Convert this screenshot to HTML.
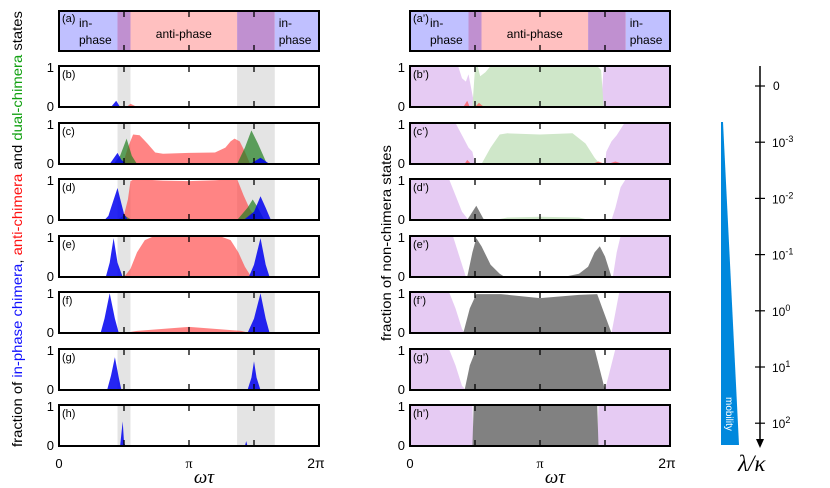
<!DOCTYPE html>
<html><head><meta charset="utf-8"><style>
html,body{margin:0;padding:0;background:#fff;width:830px;height:488px;overflow:hidden}
svg{display:block;font-family:"Liberation Sans",sans-serif}
</style></head><body>
<svg id="fig" width="830" height="488" viewBox="0 0 830 488" xmlns="http://www.w3.org/2000/svg"></svg>
<script>
// x values in units of pi (omega*tau/pi), y values fractions 0..1
const panelNames = ["b","c","d","e","f","g","h"];
// left column
const bBlueX=[0.40,0.44,0.47], bBlueY=[0,0.15,0];
const bRedX=[0.52,0.55,0.60], bRedY=[0,0.08,0];
const cRedX=[0.49,0.53,0.57,0.62,0.68,0.74,0.80,1.0,1.2,1.28,1.32,1.35,1.39,1.43,1.47];
const cRedY=[0,0.4,0.72,0.7,0.5,0.28,0.25,0.27,0.28,0.4,0.55,0.62,0.55,0.3,0];
const cGreenX=[0.42,0.47,0.52,0.56,0.60], cGreenY=[0,0.2,0.62,0.2,0];
const cGreen2X=[1.37,1.43,1.48,1.53,1.60], cGreen2Y=[0,0.4,0.82,0.5,0];
const cBlueX=[0.39,0.45,0.48,0.52], cBlueY=[0,0.27,0.1,0];
const cBlue2X=[1.47,1.55,1.62], cBlue2Y=[0,0.15,0];
const dRedX=[0.49,0.53,0.55,0.58,0.8,1.0,1.2,1.37,1.42,1.47,1.53], dRedY=[0,0.5,0.95,1,0.96,0.95,0.97,1,0.6,0.25,0];
const dGreenX=[0.45,0.50,0.56], dGreenY=[0,0.12,0];
const dGreen2X=[1.37,1.45,1.49,1.53,1.58], dGreen2Y=[0,0.3,0.5,0.3,0];
const dBlueX=[0.35,0.38,0.40,0.45,0.48,0.50,0.53], dBlueY=[0,0.1,0.3,0.78,0.4,0.15,0];
const dBlue2X=[1.42,1.50,1.55,1.59,1.63], dBlue2Y=[0,0.2,0.58,0.3,0];
const eRedX=[0.50,0.55,0.60,0.66,0.72,1.0,1.25,1.32,1.38,1.43,1.48], eRedY=[0,0.2,0.6,0.9,0.98,1,0.98,0.9,0.6,0.25,0];
const eBlueX=[0.36,0.39,0.42,0.45,0.49], eBlueY=[0,0.35,0.95,0.35,0];
const eBlue2X=[1.46,1.50,1.55,1.59,1.62], eBlue2Y=[0,0.3,0.95,0.3,0];
const fRedX=[0.50,0.60,0.80,1.0,1.2,1.40,1.47], fRedY=[0,0.05,0.1,0.15,0.1,0.05,0];
const fBlueX=[0.32,0.35,0.39,0.43,0.46], fBlueY=[0,0.35,0.97,0.35,0];
const fBlue2X=[1.45,1.50,1.55,1.59,1.62], fBlue2Y=[0,0.35,0.97,0.35,0];
const gRedX=[0.50,0.55,1.40,1.45], gRedY=[0,0.02,0.02,0];
const gBlueX=[0.37,0.40,0.43,0.46,0.48], gBlueY=[0,0.35,0.8,0.3,0];
const gBlue2X=[1.45,1.48,1.50,1.52,1.55], gBlue2Y=[0,0.3,0.7,0.3,0];
const hRedX=[0.55,0.6,1.4,1.42], hRedY=[0,0.02,0.02,0];
const hBlueX=[0.47,0.49,0.50,0.51], hBlueY=[0,0.6,0.1,0];
const hBlue2X=[1.43,1.44,1.45], hBlue2Y=[0,0.12,0];
// right column
const rbLavX=[0,0.37,0.40,0.43,0.45,0.48,0.50], rbLavY=[1,1,0.7,0.62,0.8,0.3,0];
const rbLav2X=[1.47,1.49,1.52,2], rbLav2Y=[0,1,1,1];
const rbGreenX=[0.48,0.50,0.52,0.54,0.58,0.62,1.0,1.44,1.47,1.49], rbGreenY=[0,0.95,1,0.75,0.85,1,1,1,0.9,0];
const rbRedX=[0.41,0.44,0.46], rbRedY=[0,0.15,0];
const rbRed2X=[0.50,0.53,0.57], rbRed2Y=[0,0.1,0];
const rcLavX=[0,0.35,0.40,0.45,0.48,0.50], rcLavY=[1,1,0.7,0.4,0.3,0];
const rcLav2X=[1.50,1.51,1.55,1.59,1.65,2], rcLav2Y=[0,0.3,0.55,0.7,1,1];
const rcGreenX=[0.55,0.62,0.69,0.75,1.0,1.25,1.35,1.42,1.46], rcGreenY=[0,0.4,0.72,0.75,0.72,0.75,0.5,0.15,0];
const rcRedX=[0.42,0.44,0.47], rcRedY=[0,0.1,0];
const rcRed2X=[1.52,1.58,1.64], rcRed2Y=[0,0.06,0];
const rcRed3X=[1.40,1.45,1.50], rcRed3Y=[0,0.06,0];
const rdLavX=[0,0.30,0.35,0.40,0.45], rdLavY=[1,1,0.6,0.2,0];
const rdLav2X=[1.55,1.58,1.62,1.66,2], rdLav2Y=[0,0.3,0.8,1,1];
const rdGreenX=[0.65,0.75,1.0,1.3,1.38], rdGreenY=[0,0.06,0.08,0.06,0];
const rdGrayX=[0.44,0.51,0.57], rdGrayY=[0,0.35,0];
const reLavX=[0,0.33,0.38,0.43], reLavY=[1,1,0.5,0];
const reLav2X=[1.56,1.59,1.62,2], reLav2Y=[0,0.6,1,1];
const reGrayX=[0.44,0.48,0.51,0.55,0.62,0.69,0.73], reGrayY=[0,0.6,0.95,0.75,0.3,0.08,0];
const reGray2X=[1.18,1.30,1.37,1.42,1.46,1.50,1.55], reGray2Y=[0,0.08,0.25,0.6,0.75,0.5,0];
const rfLavX=[0,0.30,0.35,0.40,0.42], rfLavY=[1,1,0.6,0.1,0];
const rfLav2X=[1.55,1.58,1.61,2], rfLav2Y=[0,0.5,1,1];
const rfGrayX=[0.41,0.46,0.51,0.7,1.0,1.3,1.44,1.48,1.55], rfGrayY=[0,0.6,0.95,0.95,0.85,0.93,0.95,0.6,0];
const rgLavX=[0,0.30,0.35,0.40,0.43], rgLavY=[1,1,0.6,0.1,0];
const rgLav2X=[1.50,1.54,1.58,2], rgLav2Y=[0,0.5,1,1];
const rgGrayX=[0.42,0.46,0.51,1.0,1.42,1.46,1.50], rgGrayY=[0,0.6,1,1,1,0.5,0];
const rhLavX=[0,0.48,0.49], rhLavY=[1,1,0];
const rhLav2X=[1.44,1.45,2], rhLav2Y=[0,1,1];
const rhGrayX=[0.48,0.49,1.44,1.45], rhGrayY=[0,1,1,0];
// colorbar
const cbLabels=["0","-3","-2","-1","0","1","2"];

const NS="http://www.w3.org/2000/svg";
const svg=document.getElementById("fig");
function mk(tag,attrs,parent){const e=document.createElementNS(NS,tag);for(const k in attrs)e.setAttribute(k,attrs[k]);(parent||svg).appendChild(e);return e;}
const L0=59,R0=410,W=260,H=41;
const tops=[66,123,179,236,292,349,405];
const xs=(x0,v)=>x0+v/2*W;
const ys=(top,v)=>top+H-v*H;
const COL={blue:["#0000f0",0.85],red:["#ff4a4a",0.68],green:["#1f7f1f",0.7],lgreen:["#cfe7c9",1],lav:["#e6cbf3",1],gray:["#7a7a7a",0.95]};
function area(x0,top,X,Y,c,name){
  let d="M"+xs(x0,X[0])+","+ys(top,0);
  for(let i=0;i<X.length;i++)d+="L"+xs(x0,X[i]).toFixed(1)+","+ys(top,Y[i]).toFixed(1);
  d+="L"+xs(x0,X[X.length-1])+","+ys(top,0)+"Z";
  const p=mk("path",{d:d,fill:COL[c][0],"fill-opacity":COL[c][1]});
  
  
}
function frame(x0,top,h,name){
  const r=mk("rect",{x:x0,y:top,width:W,height:h,fill:"none",stroke:"#000","stroke-width":2});
  
  
  [0.5,1,1.5].forEach(v=>{
    mk("line",{x1:xs(x0,v),x2:xs(x0,v),y1:top,y2:top+6,stroke:"#000","stroke-width":1.3});
    mk("line",{x1:xs(x0,v),x2:xs(x0,v),y1:top+h-6,y2:top+h,stroke:"#000","stroke-width":1.3});
  });
}
function txt(x,y,s,attrs,name){const t=mk("text",Object.assign({x:x,y:y,"font-size":12},attrs||{}));t.textContent=s;return t;}

function phaseBar(x0,lab,name){
  const top=11,h=40;
  const segs=[[0,0.45,"#c0c0ff"],[0.45,0.55,"#c090d0"],[0.55,1.37,"#ffc0c0"],[1.37,1.66,"#c090d0"],[1.66,2,"#c0c0ff"]];
  segs.forEach(s=>mk("rect",{x:xs(x0,s[0]),y:top,width:xs(x0,s[1])-xs(x0,s[0]),height:h,fill:s[2]}));
  frame(x0,top,h,name);
  txt(x0+3,top+11,lab,{"font-size":11},"panel-label");
  txt(x0+20,top+16,"in-",{"font-size":12},"in-phase-label");
  txt(x0+20,top+33,"phase",{"font-size":12},"in-phase-label");
  txt(xs(x0,0.96),top+27,"anti-phase",{"font-size":12,"text-anchor":"middle"},"anti-phase-label");
  txt(xs(x0,1.69),top+16,"in-",{"font-size":12},"in-phase-label");
  txt(xs(x0,1.69),top+33,"phase",{"font-size":12},"in-phase-label");
}
phaseBar(L0,"(a)","phase-diagram-a");
phaseBar(R0,"(a\u2019)","phase-diagram-a-prime");

const leftSeries={
 b:[["red",bRedX,bRedY],["blue",bBlueX,bBlueY]],
 c:[["red",cRedX,cRedY],["green",cGreenX,cGreenY],["green",cGreen2X,cGreen2Y],["blue",cBlueX,cBlueY],["blue",cBlue2X,cBlue2Y]],
 d:[["red",dRedX,dRedY],["green",dGreenX,dGreenY],["green",dGreen2X,dGreen2Y],["blue",dBlueX,dBlueY],["blue",dBlue2X,dBlue2Y]],
 e:[["red",eRedX,eRedY],["blue",eBlueX,eBlueY],["blue",eBlue2X,eBlue2Y]],
 f:[["red",fRedX,fRedY],["blue",fBlueX,fBlueY],["blue",fBlue2X,fBlue2Y]],
 g:[["red",gRedX,gRedY],["blue",gBlueX,gBlueY],["blue",gBlue2X,gBlue2Y]],
 h:[["red",hRedX,hRedY],["blue",hBlueX,hBlueY],["blue",hBlue2X,hBlue2Y]]
};
const rightSeries={
 b:[["lav",rbLavX,rbLavY],["lav",rbLav2X,rbLav2Y],["lgreen",rbGreenX,rbGreenY],["red",rbRedX,rbRedY],["red",rbRed2X,rbRed2Y]],
 c:[["lav",rcLavX,rcLavY],["lav",rcLav2X,rcLav2Y],["lgreen",rcGreenX,rcGreenY],["red",rcRedX,rcRedY],["red",rcRed2X,rcRed2Y],["red",rcRed3X,rcRed3Y]],
 d:[["lav",rdLavX,rdLavY],["lav",rdLav2X,rdLav2Y],["lgreen",rdGreenX,rdGreenY],["gray",rdGrayX,rdGrayY]],
 e:[["lav",reLavX,reLavY],["lav",reLav2X,reLav2Y],["gray",reGrayX,reGrayY],["gray",reGray2X,reGray2Y]],
 f:[["lav",rfLavX,rfLavY],["lav",rfLav2X,rfLav2Y],["gray",rfGrayX,rfGrayY]],
 g:[["lav",rgLavX,rgLavY],["lav",rgLav2X,rgLav2Y],["gray",rgGrayX,rgGrayY]],
 h:[["lav",rhLavX,rhLavY],["lav",rhLav2X,rhLav2Y],["gray",rhGrayX,rhGrayY]]
};
const sname={red:"anti-chimera-area",blue:"in-phase-chimera-area",green:"dual-chimera-area",lgreen:"dual-state-area",lav:"in-phase-state-area",gray:"non-chimera-area"};
panelNames.forEach((p,i)=>{
  const top=tops[i];
  mk("rect",{x:xs(L0,0.45),y:top,width:xs(L0,0.55)-xs(L0,0.45),height:H,fill:"#e4e4e4"});
  mk("rect",{x:xs(L0,1.37),y:top,width:xs(L0,1.66)-xs(L0,1.37),height:H,fill:"#e4e4e4"});
  leftSeries[p].forEach(s=>area(L0,top,s[1],s[2],s[0],sname[s[0]]+"-"+p));
  rightSeries[p].forEach(s=>area(R0,top,s[1],s[2],s[0],sname[s[0]]+"-"+p+"-prime"));
  frame(L0,top,H,"panel-"+p);
  frame(R0,top,H,"panel-"+p+"-prime");
  txt(L0+3,top+12,"("+p+")",{"font-size":11},"panel-label-"+p);
  txt(R0+3,top+12,"("+p+"\u2019)",{"font-size":11},"panel-label-"+p+"-prime");
  [L0,R0].forEach(x0=>{
    txt(x0-5,top+6,"1",{"font-size":13,"text-anchor":"end"},"y-tick-1");
    txt(x0-5,top+H+4,"0",{"font-size":13,"text-anchor":"end"},"y-tick-0");
  });
});
[L0,R0].forEach((x0,k)=>{
  txt(x0,468,"0",{"font-size":13,"text-anchor":"middle"},"x-tick-0");
  txt(xs(x0,1),468,"\u03c0",{"font-size":14,"text-anchor":"middle","font-family":"Liberation Serif, serif"},"x-tick-pi");
  txt(xs(x0,2)-3,468,"2\u03c0",{"font-size":14,"text-anchor":"middle"},"x-tick-2pi");
  txt(xs(x0,1)+15,483,"\u03c9\u03c4",{"font-size":19,"text-anchor":"middle","font-style":"italic","font-family":"Liberation Serif, serif"},"x-axis-title");
});
const yl=mk("text",{x:0,y:0,"font-size":14,transform:"translate(22,229) rotate(-90)","text-anchor":"middle",textLength:436,lengthAdjust:"spacingAndGlyphs"});


[["fraction of ","#000"],["in-phase chimera","#1010ff"],[", ","#000"],["anti-chimera","#ff1010"],[" and ","#000"],["dual-chimera","#10a010"],[" states","#000"]].forEach(s=>{const t=mk("tspan",{fill:s[1]},yl);t.textContent=s[0];});
txt(0,0,"fraction of non-chimera states",{"font-size":14,transform:"translate(391,243) rotate(-90)","text-anchor":"middle",textLength:196,lengthAdjust:"spacingAndGlyphs"},"y-axis-title-right");
const wedge=mk("polygon",{points:"721,122 723,122 739,445 721,445",fill:"#0088dd"});


txt(0,0,"mobility",{"font-size":10,fill:"#fff",transform:"translate(726,397) rotate(90)"},"mobility-label");
const ax=mk("line",{x1:760,x2:760,y1:66,y2:440,stroke:"#000","stroke-width":1.5});


const ah=mk("polygon",{points:"756,439 764,439 760,448",fill:"#000"});


cbLabels.forEach((lab,i)=>{
  const y=86+i*56.2;
  mk("line",{x1:755,x2:765,y1:y,y2:y,stroke:"#000","stroke-width":1.2});
  if(i===0){txt(773,y+4,"0",{"font-size":12},"lambda-tick");}
  else{const t=txt(772,y+5,"10",{"font-size":12},"lambda-tick");const s=mk("tspan",{dy:-5,"font-size":9},t);s.textContent=lab;}
});
txt(738,471,"\u03bb/\u03ba",{"font-size":23,"font-style":"italic","font-family":"Liberation Serif, serif"},"lambda-axis-title");
</script>
</body></html>
